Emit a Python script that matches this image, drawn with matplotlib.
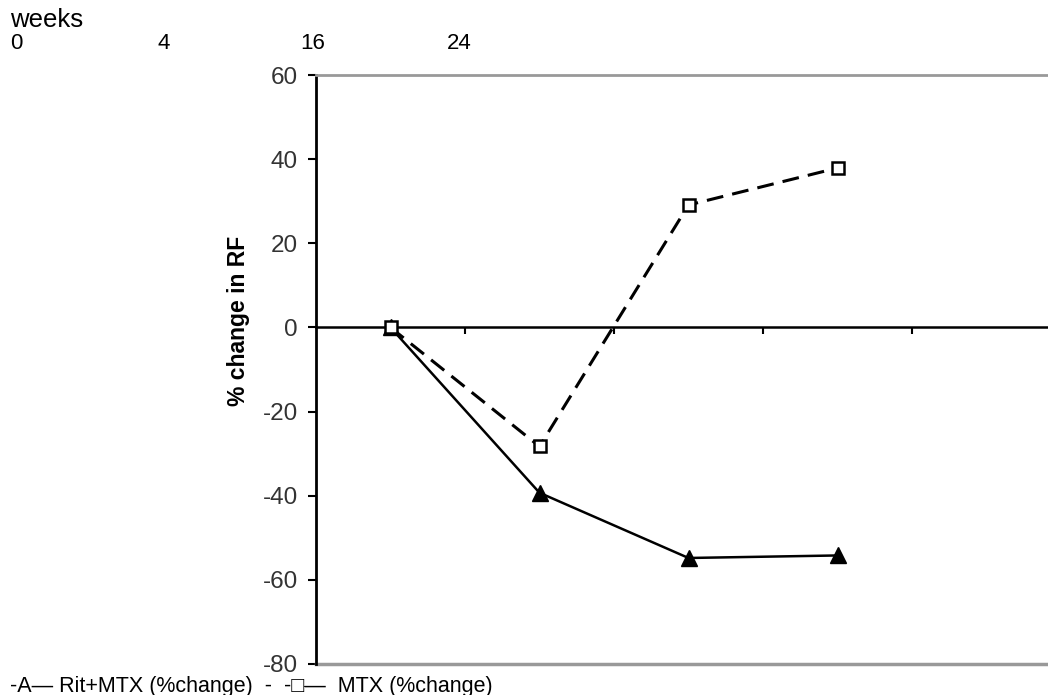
import numpy as np
import matplotlib.pyplot as plt

plt.rcParams['font.family'] = ['Liberation Sans', 'DejaVu Sans']
plt.rcParams['axes.unicode_minus'] = False

# data
x_pos = [0.5, 1.5, 2.5, 3.5]
rit_mtx = [0, -39.3, -54.8, -54.2]
mtx = [0, -28.3, 29.1, 37.9]
week_labels = ["0", "4", "16", "24"]
yticks = [-80, -60, -40, -20, 0, 20, 40, 60]

fig = plt.figure(figsize=(10.48, 6.95), dpi=100)
ax = fig.add_axes([316/1048, 31/695, 732/1048, 589/695])

ax.plot(x_pos, rit_mtx, color='black', lw=1.8, marker='^', markersize=11,
        markerfacecolor='black', markeredgecolor='black', zorder=3)
ax.plot(x_pos, mtx, color='black', lw=2.2, ls=(0, (5.5, 3)), marker='s', markersize=8,
        markerfacecolor='white', markeredgecolor='black', markeredgewidth=1.8, zorder=3)

ax.set_xlim(0, 732/149)
ax.set_ylim(-80, 60)
ax.set_yticks(yticks)
ax.set_xticks([1, 2, 3, 4])
ax.set_xticklabels([])

# zero line as bottom spine, grey frame lines at top/bottom
ax.spines['bottom'].set_position(('data', 0))
ax.spines['bottom'].set_linewidth(1.8)
ax.spines['left'].set_linewidth(2)
ax.spines['top'].set_color('#999999')
ax.spines['top'].set_linewidth(2)
ax.spines['right'].set_visible(False)
ax.axhline(-80, color='#999999', lw=2.5, clip_on=False)

ax.tick_params(axis='y', direction='out', length=6, width=1.5, labelsize=17.5,
               labelcolor='#333333', pad=7)
ax.tick_params(axis='x', direction='out', length=5, width=1.5)

fig.text(238/1048, 1 - 321/695, '% change in RF', fontsize=16.5, fontweight='bold',
         rotation=90, ha='center', va='center')

# header texts
fig.text(10/1048, 1 - 27/695, 'weeks', fontsize=18.5, va='baseline')
for lab, xp in zip(week_labels, [10, 157, 300, 447]):
    fig.text(xp/1048, 1 - 49/695, lab, fontsize=16, va='baseline')

fig.text(10/1048, 1 - 692/695, '-A\u2014 Rit+MTX (%change)  -  -\u25a1\u2014  MTX (%change)',
         fontsize=15.5, va='baseline')

fig.savefig('out.png', dpi=100)
